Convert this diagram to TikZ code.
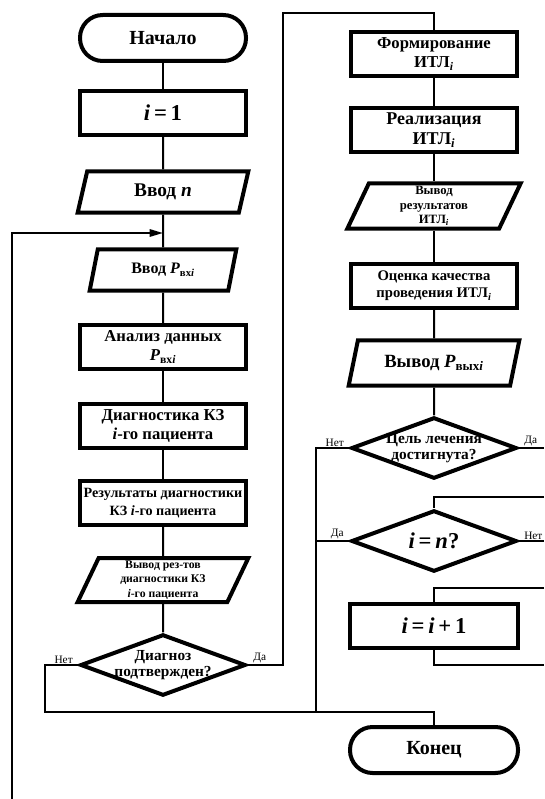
\documentclass[tikz,border=0pt]{standalone}
\usepackage{fontspec}
\setmainfont{Liberation Serif}
\usetikzlibrary{shapes.geometric}
\usetikzlibrary{arrows.meta}

\newcommand{\fsz}[2]{\fontsize{#1}{#2}\selectfont}

\begin{document}
\begin{tikzpicture}[
  x=0.75pt, y=-0.75pt,
  terminal/.style={draw=black, line width=3pt, rounded corners=17pt, minimum width=124.5pt, minimum height=34.5pt, font=\bfseries\fsz{15}{17}},
  process/.style={draw=black, line width=3pt, minimum width=124.5pt, minimum height=33pt, inner sep=1pt, align=center, font=\bfseries\fsz{12.5}{14}},
  io/.style={trapezium, trapezium left angle=63, trapezium right angle=117, trapezium stretches body, draw=black, line width=3pt, minimum width=128pt, minimum height=31pt, inner sep=1pt, align=center, font=\bfseries\fsz{12.5}{14}},
  decision/.style={diamond, draw=black, line width=3pt, aspect=2.8, minimum width=124pt, minimum height=46pt, inner sep=-2.5pt, align=center, font=\bfseries\fsz{11.5}{12.5}},
  flow/.style={draw=black, line width=1.5pt},
  yesno/.style={font=\fsz{8.5}{10}, inner sep=1pt}
]

\useasboundingbox (0,0) rectangle (544,799);

%% LEFT COLUMN

\node[terminal] (start) at (163,38) {Начало};
\node[process, font=\bfseries\fsz{17}{19}] (init) at (163,113) {\textit{i}\,=\,1};
\node[io, font=\bfseries\fsz{14.5}{16}] (inpn) at (163,192) {Ввод \textit{n}};
\node[io, minimum width=110pt, font=\bfseries\fsz{12}{14}] (inpP) at (163,270) {Ввод \textit{P}\textsubscript{вх\textit{i}}};
\node[process] (anal) at (163,347) {Анализ данных\\\textit{P}\textsubscript{вх\textit{i}}};
\node[process] (diagn) at (163,426) {Диагностика КЗ\\\textit{i}-го пациента};
\node[process, font=\bfseries\fsz{10.6}{13}] (res) at (163,503) {Результаты диагностики\\КЗ \textit{i}-го пациента};
\node[io, minimum height=33pt, font=\bfseries\fsz{8.8}{10.8}] (outd) at (163,580) {Вывод рез-тов\\диагностики КЗ\\\textit{i}-го пациента};
\node[decision] (dec) at (163,665) {Диагноз\\подтвержден?};

\draw[flow] (start) -- (init);
\draw[flow] (init) -- (inpn);
\draw[flow] (inpn) -- (inpP);
\draw[flow] (inpP) -- (anal);
\draw[flow] (anal) -- (diagn);
\draw[flow] (diagn) -- (res);
\draw[flow] (res) -- (outd);
\draw[flow] (outd) -- (dec);

% Return loop (enters from below the picture)
\coordinate (loopbot) at (12,799);
\coordinate (loopin) at (163,233);
\draw[flow, -{Triangle[length=10pt, width=5.5pt]}] (loopbot) |- (loopin);

%% RIGHT COLUMN

\node[process] (form) at (434,54) {Формирование\\ИТЛ\textsubscript{\textit{i}}};
\node[process, font=\bfseries\fsz{13.5}{15}] (real) at (434,130) {Реализация\\ИТЛ\textsubscript{\textit{i}}};
\node[io, minimum height=34pt, minimum width=130pt, font=\bfseries\fsz{9.5}{11}] (outres) at (434,206) {Вывод\\результатов\\ИТЛ\textsubscript{\textit{i}}};
\node[process, font=\bfseries\fsz{11}{13}] (eval) at (434,286) {Оценка качества\\проведения ИТЛ\textsubscript{\textit{i}}};
\node[io, minimum height=34pt, font=\bfseries\fsz{14}{16}] (outP) at (434,363) {Вывод \textit{P}\textsubscript{вых\textit{i}}};
\node[decision] (goal) at (434,448) {Цель лечения\\достигнута?};
\node[decision, font=\bfseries\fsz{17}{19}] (eqn) at (434,541) {\textit{i}\,=\,\textit{n}?};
\node[process, minimum width=126pt, font=\bfseries\fsz{17}{19}] (inc) at (434,626) {\textit{i}\,=\,\textit{i}\,+\,1};
\node[terminal, minimum width=126pt] (stop) at (434,750) {Конец};

\draw[flow] (form) -- (real);
\draw[flow] (real) -- (outres);
\draw[flow] (outres) -- (eval);
\draw[flow] (eval) -- (outP);
\draw[flow] (outP) -- (goal);

%% BRANCHES

% Diagnosis: yes -> right column, no -> end
\coordinate (yesup) at (283,13);
\coordinate (nojoin) at (45,712);
\coordinate (endjoin) at (434,712);
\draw[flow] (dec.east) -| (yesup) -| (form.north);
\draw[flow] (dec.west) -| (nojoin) -- (endjoin) -- (stop.north);
\node[yesno, anchor=south west] (decyes) at ([xshift=3pt]dec.east) {Да};
\node[yesno, anchor=south east] (decno) at ([xshift=-3pt]dec.west) {Нет};

% Goal reached?
\coordinate (rightedge) at (544,0);
\coordinate (goalno) at (316,712);
\draw[flow] (goal.west) -| (goalno);
\draw[flow] (goal.east) -- (goal.east -| rightedge);
\node[yesno, anchor=south east] (goalnolab) at ([xshift=-3pt]goal.west) {Нет};
\node[yesno, anchor=south west] (goalyes) at ([xshift=3pt]goal.east) {Да};

% i = n ?
\coordinate (eqnin) at (544,497);
\draw[flow] (eqnin) -| (eqn.north);
\draw[flow] (eqn.west) -- (eqn.west -| goalno);
\draw[flow] (eqn.east) -- (eqn.east -| rightedge);
\node[yesno, anchor=south east] (eqnyes) at ([xshift=-3pt]eqn.west) {Да};
\node[yesno, anchor=south west] (eqnno) at ([xshift=3pt]eqn.east) {Нет};

% i = i + 1
\coordinate (incin) at (544,588);
\coordinate (incout) at (544,665);
\draw[flow] (incin) -| (inc.north);
\draw[flow] (inc.south) |- (incout);

\end{tikzpicture}
\end{document}
